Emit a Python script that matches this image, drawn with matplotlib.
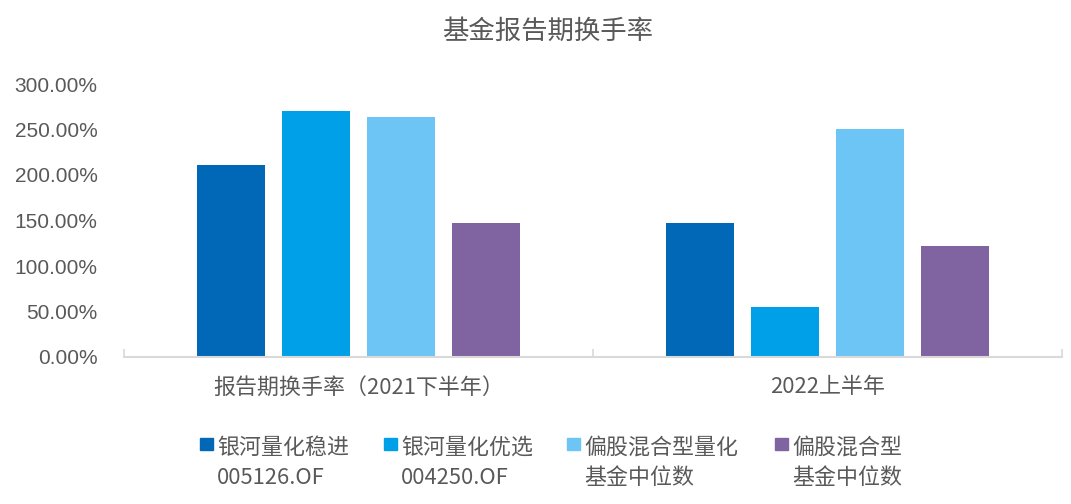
import matplotlib
matplotlib.use("Agg")
import matplotlib.pyplot as plt
from matplotlib.patches import Rectangle
from matplotlib.ticker import FuncFormatter, FixedLocator
import numpy as np

plt.rcParams['font.family'] = ['Noto Sans CJK SC', 'DejaVu Sans']

title = "基金报告期换手率"
categories = ["报告期换手率（2021下半年）", "2022上半年"]
series_names = ["银河量化稳进\n005126.OF", "银河量化优选\n004250.OF",
                "偏股混合型量化\n基金中位数", "偏股混合型\n基金中位数"]
series_values = [
    [211.0, 147.5],
    [270.0, 55.0],
    [263.5, 250.5],
    [147.0, 122.0],
]
colors = ["#0068B7", "#00A0E9", "#6CC5F5", "#8064A2"]
yticks = [0, 50, 100, 150, 200, 250, 300]

W, H = 1071, 504
fig = plt.figure(figsize=(W / 100, H / 100), dpi=100)
ax = fig.add_axes([124 / W, 1 - 357 / H, (1062 - 124) / W, (357 - 84) / H])

gray = "#595959"
x = np.arange(len(categories))
bw = 0.145
step = 0.181
for i, (name, vals, c) in enumerate(zip(series_names, series_values, colors)):
    ax.bar(x + (i - 1.5) * step, vals, width=bw, color=c, zorder=2)

ax.set_xlim(-0.5, len(categories) - 0.5)
ax.set_ylim(0, 300)
ax.set_yticks(yticks)
ax.yaxis.set_major_formatter(FuncFormatter(lambda v, p: f"{v:.2f}%"))
ax.set_xticks(x)
ax.set_xticklabels(categories)
ax.xaxis.set_minor_locator(FixedLocator([-0.5, 0.5, 1.5]))

for s in ["top", "right", "left"]:
    ax.spines[s].set_visible(False)
ax.spines["bottom"].set_color("#D9D9D9")
ax.spines["bottom"].set_linewidth(1.5)

ax.tick_params(axis='y', length=0, pad=19, labelsize=15, labelcolor=gray)
for lab in ax.get_yticklabels():
    lab.set_fontfamily(['Liberation Sans', 'DejaVu Sans'])
ax.tick_params(axis='x', which='major', length=0, pad=14, labelsize=15.8, labelcolor=gray)
ax.tick_params(axis='x', which='minor', direction='in', length=6, width=1.2, color="#D9D9D9")

fig.text(548 / W, 1 - 31 / H, title, ha='center', va='center', fontsize=19, color=gray)

# legend drawn manually
sq_x = [200, 384, 567, 775]
for sx, name, c in zip(sq_x, series_names, colors):
    fig.patches.append(Rectangle((sx / W, 1 - 450 / H), 13 / W, 12 / H,
                                 transform=fig.transFigure, color=c))
    fig.text((sx + 17) / W, 1 - 437 / H, name, ha='left', va='top',
             fontsize=15.8, color=gray, linespacing=1.45)

fig.savefig("out.png", dpi=100)
